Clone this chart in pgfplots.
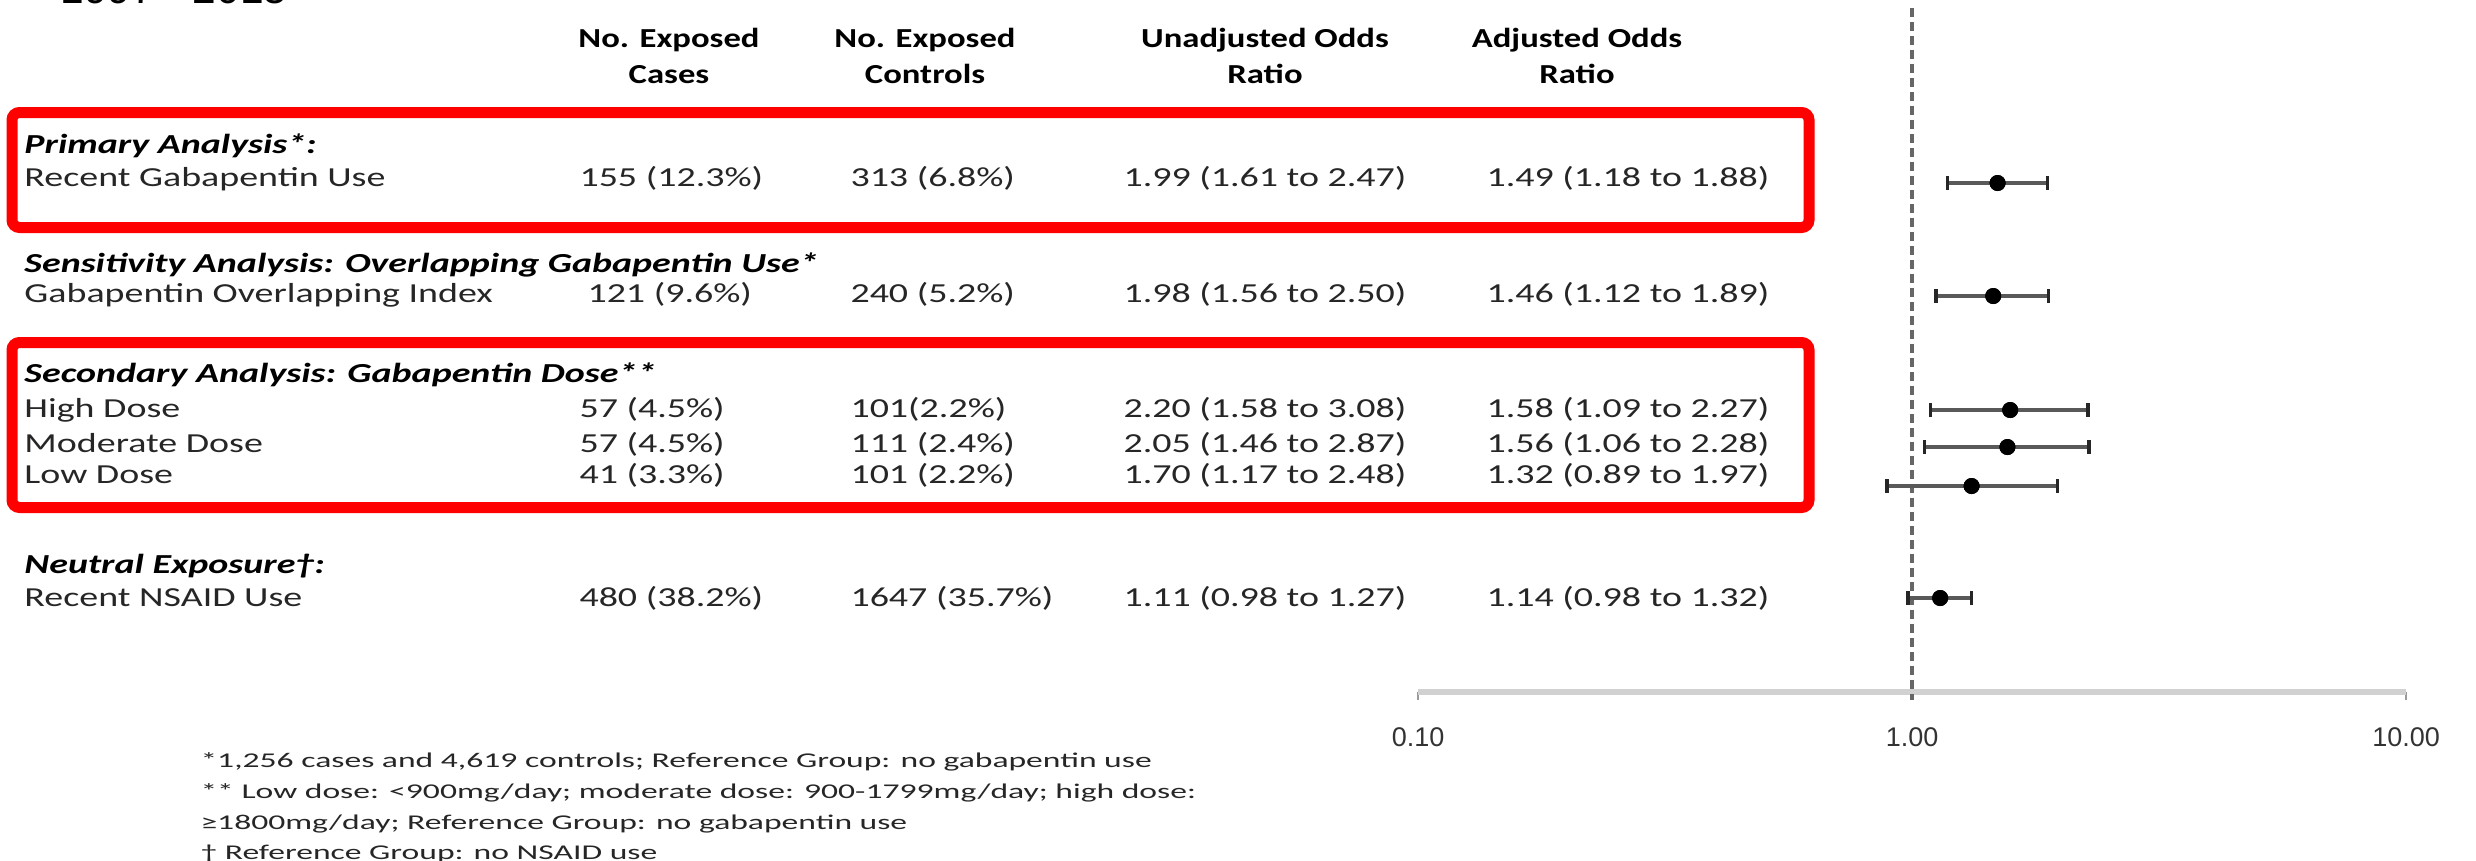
\documentclass[border=0pt]{standalone}
\usepackage{pgfplots}
\pgfplotsset{compat=1.18}
\usepackage{pgfplotstable}
\usepackage{fontspec}
\setmainfont{Carlito}[FakeStretch=1.38]
\newfontfamily\headfont{Carlito}[FakeStretch=1.26]
\newfontfamily\notefont{Carlito}[FakeStretch=1.6]
\newfontfamily\tickfont{Liberation Sans}

% adjusted odds ratios with 95% confidence limits; pos = vertical row position
\pgfplotstableread{
pos   or    lo    hi
-183  1.49  1.18  1.88
-296  1.46  1.12  1.89
-410  1.58  1.09  2.27
-447  1.56  1.06  2.28
-486  1.32  0.89  1.97
-598  1.14  0.98  1.32
}\ortable

\newcommand\bodyfont{\fontsize{11pt}{13pt}\selectfont}
\newcommand\footfont{\notefont\fontsize{8.4pt}{10pt}\selectfont}
\newcommand\cell[3]{\node[anchor=base west,inner sep=0,text=black!85,font=\bodyfont] at (#1,#2) {#3};}
\newcommand\sect[3]{\node[anchor=base west,inner sep=0,text=black,font=\bodyfont\bfseries\itshape] at (#1,#2) {#3};}
\newcommand\head[3]{\node[anchor=base,inner sep=0,text=black,font=\headfont\fontsize{11pt}{13pt}\selectfont\bfseries] at (#1,#2) {#3};}
\newcommand\note[3]{\node[anchor=base west,inner sep=0,text=black!85,font=\footfont] at (#1,#2) {#3};}

\begin{document}
\begin{tikzpicture}
\begin{scope}[x=0.4pt,y=-0.4pt]
\useasboundingbox (0,0) rectangle (2476,860);

% period label, mostly above the visible area
\node[anchor=base west,inner sep=0,font=\tickfont\fontsize{17pt}{20pt}\selectfont] at (60,3) {1997 - 2015};

% highlighted groups
\draw[red, line width=4.4pt, rounded corners=3pt] (12,112.5) rectangle (1809,227.5);
\draw[red, line width=4.4pt, rounded corners=3pt] (12,342.5) rectangle (1809,507.5);

% column headings
\head{669}{47}{No. Exposed}   \head{669}{83}{Cases}
\head{925}{47}{No. Exposed}   \head{925}{83}{Controls}
\head{1265}{47}{Unadjusted Odds} \head{1265}{83}{Ratio}
\head{1577}{47}{Adjusted Odds}   \head{1577}{83}{Ratio}

% primary analysis
\sect{24}{153}{Primary Analysis*:}
\cell{24}{186}{Recent Gabapentin Use}
\cell{579}{186}{155 (12.3\%)}
\cell{850}{186}{313 (6.8\%)}
\cell{1123}{186}{1.99 (1.61 to 2.47)}
\cell{1486}{186}{1.49 (1.18 to 1.88)}

% sensitivity analysis
\sect{24}{272}{Sensitivity Analysis: Overlapping Gabapentin Use*}
\cell{24}{302}{Gabapentin Overlapping Index}
\cell{587}{302}{121 (9.6\%)}
\cell{850}{302}{240 (5.2\%)}
\cell{1123}{302}{1.98 (1.56 to 2.50)}
\cell{1486}{302}{1.46 (1.12 to 1.89)}

% secondary analysis
\sect{24}{382}{Secondary Analysis: Gabapentin Dose**}
\cell{24}{417}{High Dose}
\cell{579}{417}{57 (4.5\%)}
\cell{850}{417}{101(2.2\%)}
\cell{1123}{417}{2.20 (1.58 to 3.08)}
\cell{1486}{417}{1.58 (1.09 to 2.27)}
\cell{24}{452}{Moderate Dose}
\cell{579}{452}{57 (4.5\%)}
\cell{850}{452}{111 (2.4\%)}
\cell{1123}{452}{2.05 (1.46 to 2.87)}
\cell{1486}{452}{1.56 (1.06 to 2.28)}
\cell{24}{483}{Low Dose}
\cell{579}{483}{41 (3.3\%)}
\cell{850}{483}{101 (2.2\%)}
\cell{1123}{483}{1.70 (1.17 to 2.48)}
\cell{1486}{483}{1.32 (0.89 to 1.97)}

% neutral exposure
\sect{24}{573}{Neutral Exposure\textdagger:}
\cell{24}{606}{Recent NSAID Use}
\cell{579}{606}{480 (38.2\%)}
\cell{850}{606}{1647 (35.7\%)}
\cell{1123}{606}{1.11 (0.98 to 1.27)}
\cell{1486}{606}{1.14 (0.98 to 1.32)}

% footnotes
\note{200}{767}{*1,256 cases and 4,619 controls; Reference Group: no gabapentin use}
\note{200}{798}{** Low dose: <900mg/day; moderate dose: 900-1799mg/day; high dose:}
\note{200}{829}{≥1800mg/day; Reference Group: no gabapentin use}
\note{200}{859}{\textdagger{} Reference Group: no NSAID use}
\end{scope}

\begin{axis}[
  at={(567.2pt,-276.8pt)}, anchor=south west,
  scale only axis, width=395.2pt, height=273.6pt,
  xmode=log, log basis x=10,
  xmin=0.1, xmax=10, ymin=-692, ymax=-8,
  axis x line*=bottom, axis y line=none,
  x axis line style={draw=black!18, line width=2.2pt, -},
  xtick={0.1,1,10}, xticklabels={0.10,1.00,10.00},
  minor xtick={}, ytick=\empty,
  tick align=outside, major tick length=3.2pt,
  every tick/.style={black!40, line width=0.8pt},
  xticklabel style={font=\tickfont\fontsize{10.8pt}{12pt}\selectfont,
    text=black!80, anchor=base, yshift=-18.4pt},
  clip=false,
]
% line of no effect
\addplot[black!60, line width=1.6pt, dash pattern=on 3.6pt off 2pt]
  coordinates {(1,-8) (1,-700)};
% confidence intervals and point estimates
\addplot[only marks, mark=*, mark size=3pt, black,
  error bars/.cd, x dir=both, x explicit, error mark=|,
  error bar style={line width=1.6pt, black!65},
  error mark options={black!85, line width=1.5pt, mark size=2.8pt}]
  table[x=or, y=pos,
    x error plus expr=\thisrow{hi}-\thisrow{or},
    x error minus expr=\thisrow{or}-\thisrow{lo}] {\ortable};
\addplot[only marks, mark=*, mark size=3pt, black]
  table[x=or, y=pos] {\ortable};
\end{axis}
\end{tikzpicture}
\end{document}
